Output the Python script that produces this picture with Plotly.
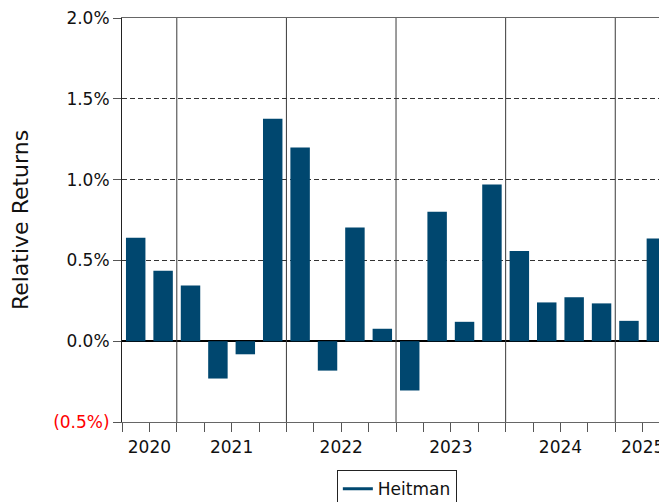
import plotly.graph_objects as go

# quarterly relative returns (%)
periods = ["2020Q3", "2020Q4",
           "2021Q1", "2021Q2", "2021Q3", "2021Q4",
           "2022Q1", "2022Q2", "2022Q3", "2022Q4",
           "2023Q1", "2023Q2", "2023Q3", "2023Q4",
           "2024Q1", "2024Q2", "2024Q3", "2024Q4",
           "2025Q1", "2025Q2"]
returns = [0.64, 0.436,
           0.345, -0.231, -0.081, 1.377,
           1.199, -0.182, 0.703, 0.077,
           -0.305, 0.801, 0.12, 0.969,
           0.558, 0.24, 0.272, 0.234,
           0.126, 0.636]
series_name = "Heitman"
y_ticks = [-0.5, 0.0, 0.5, 1.0, 1.5, 2.0]
y_ticktext = ["<span style='color:#ff0000'>(0.5%)</span>", "0.0%", "0.5%", "1.0%", "1.5%", "2.0%"]

BAR = "#00476F"
FONT = "DejaVu Sans, Verdana, sans-serif"

idx = list(range(len(periods)))
years = [p[:4] for p in periods]

# year groups -> label centres and boundary positions
year_order = []
for y in years:
    if y not in year_order:
        year_order.append(y)
centres = []
for y in year_order:
    pos = [i for i, yy in enumerate(years) if yy == y]
    centres.append(sum(pos) / len(pos))
boundaries = [i - 0.5 for i in idx[1:] if years[i] != years[i - 1]]

fig = go.Figure()
fig.add_trace(go.Bar(x=idx, y=returns, width=0.71, marker=dict(color=BAR, line=dict(width=0)),
                     showlegend=False, hoverinfo="y"))
# legend entry drawn as a line, as in the reference
fig.add_trace(go.Scatter(x=[None], y=[None], mode="lines", name=series_name,
                         line=dict(color=BAR, width=3)))

for b in boundaries:
    fig.add_shape(type="line", xref="x", yref="paper", x0=b, x1=b, y0=0, y1=1,
                  line=dict(color="#3a3a3a", width=1), layer="above")

fig.update_layout(
    template="none",
    width=667, height=502,
    margin=dict(l=114, r=0, t=10, b=88, pad=0),
    paper_bgcolor="white", plot_bgcolor="white",
    font=dict(family=FONT, size=17, color="#111111"),
    legend=dict(orientation="h", x=0.497, xanchor="center", y=-0.119, yanchor="top",
                bordercolor="#222222", borderwidth=1, font=dict(size=17),
                bgcolor="white"),
    xaxis=dict(range=[-0.5, 19.68], tickmode="array", tickvals=centres, ticktext=year_order,
               ticks="", showgrid=False, zeroline=False, ticklabelstandoff=10,
               automargin=False, ticklabeloverflow="allow",
               showline=True, mirror=True, linecolor="#666666", linewidth=1,
               minor=dict(ticks="outside", tick0=-0.5, dtick=1, ticklen=9, tickwidth=1,
                          tickcolor="#555555", showgrid=False)),
    yaxis=dict(range=[-0.5, 2.0], tickmode="array", tickvals=y_ticks, ticktext=y_ticktext,
               ticks="outside", ticklen=8, tickwidth=1, tickcolor="#555555",
               ticklabeloverflow="allow",
               showgrid=True, gridcolor="#333333", griddash="5px,3px", gridwidth=1,
               zeroline=True, zerolinecolor="#000000", zerolinewidth=2,
               showline=True, linecolor="#222222", linewidth=1, automargin=False,
               title=dict(text="Relative Returns", font=dict(size=22), standoff=20)),
)

fig.write_html("out.html")
